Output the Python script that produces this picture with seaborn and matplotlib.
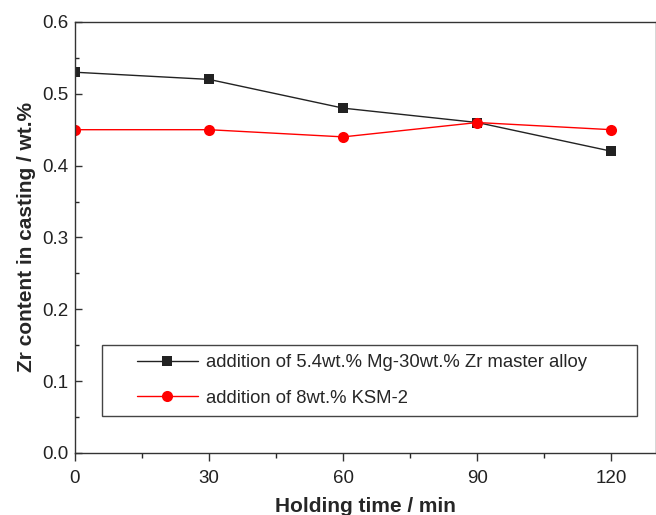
import pandas as pd
import matplotlib.pyplot as plt
import seaborn as sns
from matplotlib.legend_handler import HandlerLine2D
from matplotlib.lines import Line2D

time_min = [0, 30, 60, 90, 120]
zr_master = [0.53, 0.52, 0.48, 0.46, 0.42]
zr_ksm = [0.45, 0.45, 0.44, 0.46, 0.45]
label_master = 'addition of 5.4wt.% Mg-30wt.% Zr master alloy'
label_ksm = 'addition of 8wt.% KSM-2'

df = pd.DataFrame({
    'time': time_min * 2,
    'zr': zr_master + zr_ksm,
    'series': [label_master] * 5 + [label_ksm] * 5,
})


class OffsetHandler(HandlerLine2D):
    # pushes the legend handle to the right inside its box
    def __init__(self, offset, **kw):
        super().__init__(**kw)
        self.offset = offset

    def create_artists(self, legend, orig_handle, xdescent, ydescent, width, height, fontsize, trans):
        return super().create_artists(legend, orig_handle, xdescent - self.offset, ydescent,
                                      width - self.offset, height, fontsize, trans)


sns.set_style('ticks')
plt.rcParams['font.family'] = ['Liberation Sans', 'DejaVu Sans']

fig = plt.figure(figsize=(6.56, 5.15), dpi=100)
ax = fig.add_axes([0.1143, 0.1204, 0.886, 0.837])

sns.lineplot(
    data=df, x='time', y='zr', hue='series', style='series',
    palette={label_master: 'black', label_ksm: 'red'},
    markers={label_master: 's', label_ksm: 'o'},
    dashes=False, linewidth=1, markeredgewidth=0,
    ax=ax,
)
for line in ax.lines:
    line.set_clip_on(True)
    if line.get_marker() == 's':
        line.set_markersize(7)
        line.set_color('#222222')
    else:
        line.set_markersize(8)

ax.set_xlim(0, 130)
ax.set_ylim(0, 0.6)
ax.set_xticks([0, 30, 60, 90, 120])
ax.set_xticks([15, 45, 75, 105], minor=True)
ax.set_yticks([0.0, 0.1, 0.2, 0.3, 0.4, 0.5, 0.6])
ax.set_yticks([0.05, 0.15, 0.25, 0.35, 0.45, 0.55], minor=True)
ax.set_yticklabels(['0.0', '0.1', '0.2', '0.3', '0.4', '0.5', '0.6'])
ax.tick_params(axis='both', which='major', width=1, labelsize=13.5, labelcolor='#222222', color='#333333')
ax.tick_params(axis='x', which='major', direction='out', length=5.5, pad=7)
ax.tick_params(axis='x', which='minor', direction='out', length=3.5, width=1)
ax.tick_params(axis='y', which='major', direction='in', length=5, pad=4.5)
ax.tick_params(axis='y', which='minor', direction='in', length=3, width=1)
for side in ['left', 'bottom', 'top', 'right']:
    ax.spines[side].set_visible(True)
    ax.spines[side].set_linewidth(1)
    ax.spines[side].set_color('#333333')

ax.set_xlabel('Holding time / min', fontsize=15, fontweight='bold', labelpad=7)
ax.set_ylabel('Zr content in casting / wt.%', fontsize=15, fontweight='bold', labelpad=5)

handles, labels = ax.get_legend_handles_labels()
leg = ax.legend(handles, labels, loc='upper left', bbox_to_anchor=(0.046, 0.09, 0.921, 0.16),
                mode='expand', fontsize=13.3, frameon=True, fancybox=False,
                borderpad=0.5, labelspacing=1.0, handlelength=4.7, handletextpad=0.43,
                borderaxespad=0, handler_map={Line2D: OffsetHandler(18.7)})
leg.get_frame().set_edgecolor('#444444')
leg.get_frame().set_linewidth(1)
leg.get_frame().set_alpha(1)
for line in leg.get_lines():
    line.set_markeredgewidth(0)

fig.savefig('out.png', dpi=100)
